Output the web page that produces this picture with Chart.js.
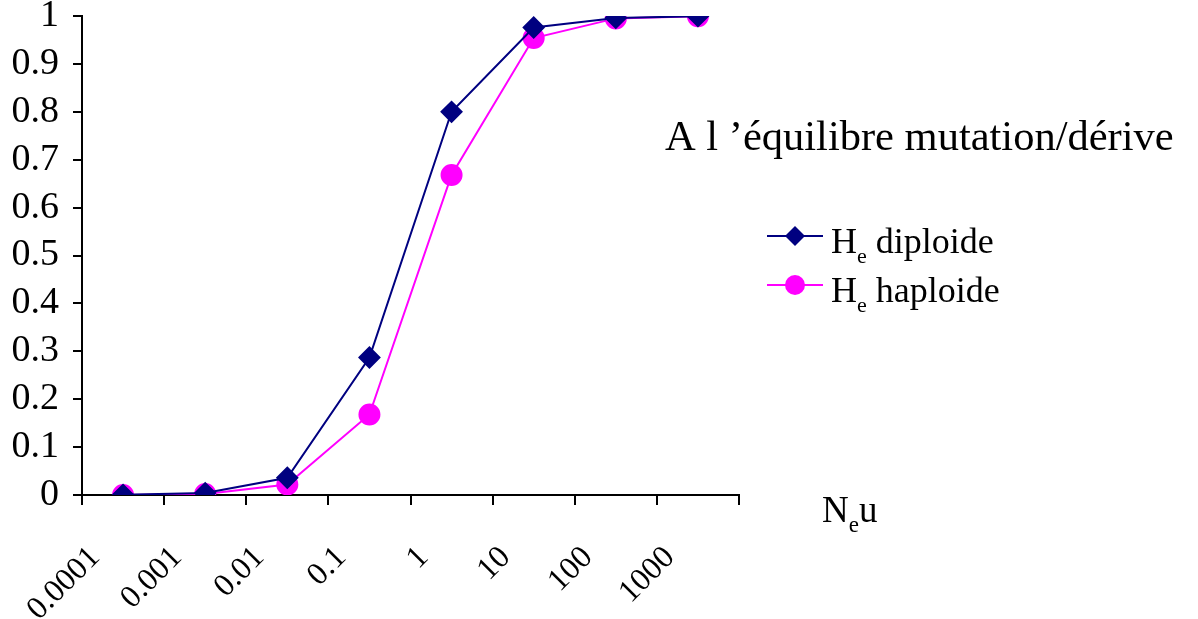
<!DOCTYPE html>
<html>
<head>
<meta charset="utf-8">
<script src="https://cdn.jsdelivr.net/npm/chart.js@4/dist/chart.umd.min.js"></script>
<style>
  html, body { margin: 0; padding: 0; background: #fff; }
  #wrap { width: 1198px; height: 619px; }
</style>
</head>
<body>
<div id="wrap"><canvas id="myChart" width="1198" height="619"></canvas></div>
<script>
// data
const neuLabels = ['0.0001', '0.001', '0.01', '0.1', '1', '10', '100', '1000'];
const heDiploid = [0.0004, 0.004, 0.036, 0.287, 0.8, 0.976, 0.996, 0.9996];
const heHaploid = [0.0002, 0.002, 0.022, 0.168, 0.668, 0.954, 0.995, 0.9995];

const titleText = 'A l \u2019\u00e9quilibre mutation/d\u00e9rive';
const seriesNames = [['H', 'e', ' diploide'], ['H', 'e', ' haploide']];
const axisName = ['N', 'e', 'u'];

const FONT = '"Liberation Serif", "Times New Roman", serif';
const NAVY = '#000080';
const PINK = '#ff00ff';

// text with a subscript in the middle: [main, sub, rest]
function drawSub(ctx, parts, x, y, size) {
  ctx.font = size + 'px ' + FONT;
  ctx.fillText(parts[0], x, y);
  x += ctx.measureText(parts[0]).width;
  ctx.font = Math.round(size * 0.62) + 'px ' + FONT;
  ctx.fillText(parts[1], x, y + size * 0.28);
  x += ctx.measureText(parts[1]).width;
  ctx.font = size + 'px ' + FONT;
  ctx.fillText(parts[2], x, y);
}

const annotations = {
  id: 'annotations',
  afterDraw(chart) {
    const ctx = chart.ctx;
    ctx.save();
    ctx.fillStyle = '#000';
    ctx.textAlign = 'left';
    ctx.textBaseline = 'alphabetic';

    ctx.font = '42.5px ' + FONT;
    ctx.fillText(titleText, 665, 150);

    // legend
    const rows = [253, 302];
    chart.data.datasets.forEach((ds, i) => {
      const my = rows[i] - 17;
      ctx.strokeStyle = ds.borderColor;
      ctx.lineWidth = ds.borderWidth;
      ctx.beginPath();
      ctx.moveTo(767, my);
      ctx.lineTo(823, my);
      ctx.stroke();
      ctx.fillStyle = ds.pointBackgroundColor;
      Chart.helpers.drawPoint(ctx, {pointStyle: ds.pointStyle, radius: ds.pointRadius, rotation: 0}, 795, my);
      ctx.fillStyle = '#000';
      drawSub(ctx, seriesNames[i], 831, rows[i], 36);
    });

    // axis name
    drawSub(ctx, axisName, 822, 522, 37);
    ctx.restore();
  }
};

const ctx = document.getElementById('myChart');
new Chart(ctx, {
  type: 'line',
  data: {
    labels: neuLabels,
    datasets: [{
      label: 'He diploide',
      data: heDiploid,
      borderColor: NAVY,
      backgroundColor: NAVY,
      pointBackgroundColor: NAVY,
      pointBorderColor: NAVY,
      pointStyle: 'rectRot',
      pointRadius: 10,
      borderWidth: 2,
      tension: 0
    }, {
      label: 'He haploide',
      data: heHaploid,
      borderColor: PINK,
      backgroundColor: PINK,
      pointBackgroundColor: PINK,
      pointBorderColor: PINK,
      pointStyle: 'circle',
      pointRadius: 10,
      borderWidth: 2,
      tension: 0
    }]
  },
  options: {
    responsive: false,
    animation: false,
    layout: { padding: { top: 16, right: 459, bottom: 0, left: 0 } },
    plugins: {
      legend: { display: false },
      tooltip: { enabled: false },
      title: { display: false }
    },
    scales: {
      x: {
        type: 'category',
        offset: true,
        grid: { offset: true, drawOnChartArea: false, drawTicks: true, tickLength: 10, color: '#000', lineWidth: 2 },
        border: { display: true, color: '#000', width: 2 },
        ticks: {
          color: '#000',
          font: { family: FONT, size: 32 },
          minRotation: 45,
          maxRotation: 45,
          labelOffset: -28,
          padding: 34,
          autoSkip: false
        },
        afterFit(s) { s.height = 124; s.paddingLeft = 0; s.paddingRight = 0; }
      },
      y: {
        min: 0,
        max: 1,
        grid: { drawOnChartArea: false, drawTicks: true, tickLength: 9, color: '#000', lineWidth: 2 },
        border: { display: true, color: '#000', width: 2 },
        ticks: {
          stepSize: 0.1,
          autoSkip: false,
          color: '#000',
          padding: 14,
          font: { family: FONT, size: 38 },
          callback: v => String(parseFloat(v.toFixed(1)))
        },
        afterFit(s) { s.width = 82; s.paddingTop = 0; s.paddingBottom = 0; }
      }
    }
  },
  plugins: [annotations]
});
</script>
</body>
</html>
